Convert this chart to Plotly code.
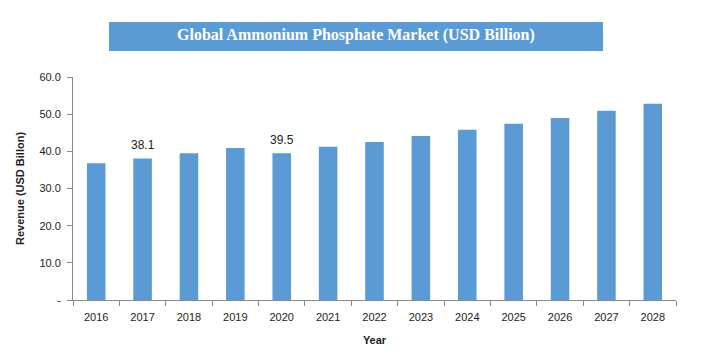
import plotly.graph_objects as go

years = ["2016", "2017", "2018", "2019", "2020", "2021", "2022",
         "2023", "2024", "2025", "2026", "2027", "2028"]
revenue = [36.8, 38.1, 39.5, 40.9, 39.5, 41.2, 42.5, 44.1, 45.8, 47.4, 49.0, 50.9, 52.8]
labeled_years = ["2017", "2020"]
y_tickvals = [0, 10, 20, 30, 40, 50, 60]
y_ticktext = ["-", "10.0", "20.0", "30.0", "40.0", "50.0", "60.0"]

BLUE = "#5b9bd5"
FONT = "Liberation Sans"

fig = go.Figure()
fig.add_trace(go.Bar(x=years, y=revenue, marker=dict(color=BLUE, line=dict(width=0)),
                     width=0.4, hoverinfo="x+y"))

for yr in labeled_years:
    i = years.index(yr)
    v = revenue[i]
    fig.add_annotation(x=i, y=v, text=f"{v:.1f}", showarrow=False, yanchor="bottom",
                       yshift=4, font=dict(family=FONT, size=12, color="#222"))

fig.add_shape(type="rect", xref="paper", yref="paper", x0=0.0597, x1=0.879,
              y0=1.1166, y1=1.2466, fillcolor=BLUE, line=dict(width=0), layer="above")
fig.add_annotation(xref="paper", yref="paper", x=0.469, y=1.19, yanchor="middle",
                   xanchor="center",
                   text="<b>Global Ammonium Phosphate Market (USD Billion)</b>",
                   showarrow=False, font=dict(family="Liberation Serif", size=16, color="white"))

fig.update_layout(
    width=711, height=356,
    margin=dict(l=65, r=43, t=69, b=64, autoexpand=False),
    paper_bgcolor="white", plot_bgcolor="white",
    showlegend=False, bargap=0.6,
    font=dict(family=FONT, size=11, color="#222"),
    xaxis=dict(type="category", range=[-0.5, 12.5], showline=True, linecolor="#888", linewidth=1,
               ticks="outside", tickson="boundaries", ticklen=5, tickcolor="#888",
               showgrid=False, tickfont=dict(size=11), tickangle=0, automargin=False,
               ticklabelstandoff=7,
               title=dict(text="<b>Year</b>", font=dict(size=11), standoff=14)),
    yaxis=dict(range=[0, 60], tickvals=y_tickvals, ticktext=y_ticktext, automargin=False,
               showline=True, linecolor="#888", linewidth=1, ticks="outside",
               ticklen=5, tickcolor="#888", showgrid=False, zeroline=False,
               tickfont=dict(size=11), ticklabelstandoff=4,
               title=dict(text="<b>Revenue (USD Billon)</b>", font=dict(size=11), standoff=12)),
)

fig.write_html("out.html")
